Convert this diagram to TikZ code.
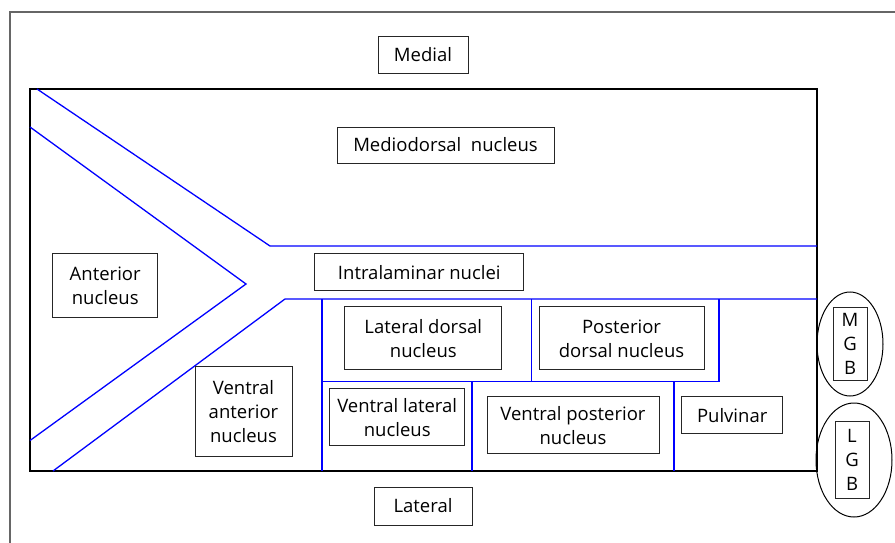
\documentclass[tikz,border=0pt]{standalone}
\usepackage{fontspec}
\setmainfont{Open Sans}
\usetikzlibrary{shapes.geometric}
\tikzset{
  part/.style={draw=black!85, line width=0.9pt, align=center, inner sep=0pt,
    font=\fontsize{18.5}{24}\selectfont},
  ring/.style={draw, ellipse, line width=1pt, inner sep=0pt},
  lamina/.style={blue, line width=1.3pt},
}
\begin{document}
\begin{tikzpicture}[x=1pt,y=-1pt]
  \useasboundingbox (0,0) rectangle (895,543);
  % frame and outline
  \draw[black!60, line width=1.5pt] (10,543) -- (10,12) -- (895,12);
  \draw[line width=1.3pt] (30,89) rectangle (817,471);
  % internal medullary lamina
  \draw[lamina] (37,89) -- (270,246) -- (817,246);
  \draw[lamina] (30,127) -- (246,284) -- (30,440.5);
  \draw[lamina] (53,471) -- (285,299) -- (817,299);
  \draw[lamina] (322,299) -- (322,471);
  \draw[lamina] (322,381.5) -- (719,381.5) -- (719,299);
  \draw[lamina] (531.5,299) -- (531.5,381.5);
  \draw[lamina] (472,381.5) -- (472,471);
  \draw[lamina] (674,381.5) -- (674,471);
  % nuclei
  \node[part, minimum width=90pt, minimum height=37pt] (medial) at (423,54.5) {Medial};
  \node[part, minimum width=217pt, minimum height=36pt] (md) at (445.5,145) {Mediodorsal\ \ nucleus};
  \node[part, minimum width=105pt, minimum height=64pt] (ant) at (105.2,285.8) {Anterior\\nucleus};
  \node[part, minimum width=97pt, minimum height=90pt] (va) at (243.5,411.8) {Ventral\\anterior\\nucleus};
  \node[part, minimum width=209pt, minimum height=37pt] (il) at (419.3,272.3) {Intralaminar nuclei};
  \node[part, minimum width=157pt, minimum height=63pt] (ld) at (423.3,338.3) {Lateral dorsal\\nucleus};
  \node[part, minimum width=165pt, minimum height=63pt] (pd) at (621.5,338.3) {Posterior\\dorsal nucleus};
  \node[part, minimum width=135pt, minimum height=57pt] (vl) at (397.2,417.3) {Ventral lateral\\nucleus};
  \node[part, minimum width=172pt, minimum height=57pt] (vp) at (573,425.3) {Ventral posterior\\nucleus};
  \node[part, minimum width=101pt, minimum height=37pt] (pul) at (732.2,415.3) {Pulvinar};
  \node[part, minimum width=98pt, minimum height=38pt] (lat) at (423,506) {Lateral};
  % geniculate bodies
  \node[ring, minimum width=66pt, minimum height=104pt] (mgbring) at (850,344) {};
  \node[part, minimum width=34pt, minimum height=73pt] (mgb) at (850,343.5) {M\\G\\B};
  \node[ring, minimum width=76pt, minimum height=114pt] (lgbring) at (854,460) {};
  \node[part, minimum width=34pt, minimum height=77pt] (lgb) at (852,459.5) {L\\G\\B};
\end{tikzpicture}
\end{document}
